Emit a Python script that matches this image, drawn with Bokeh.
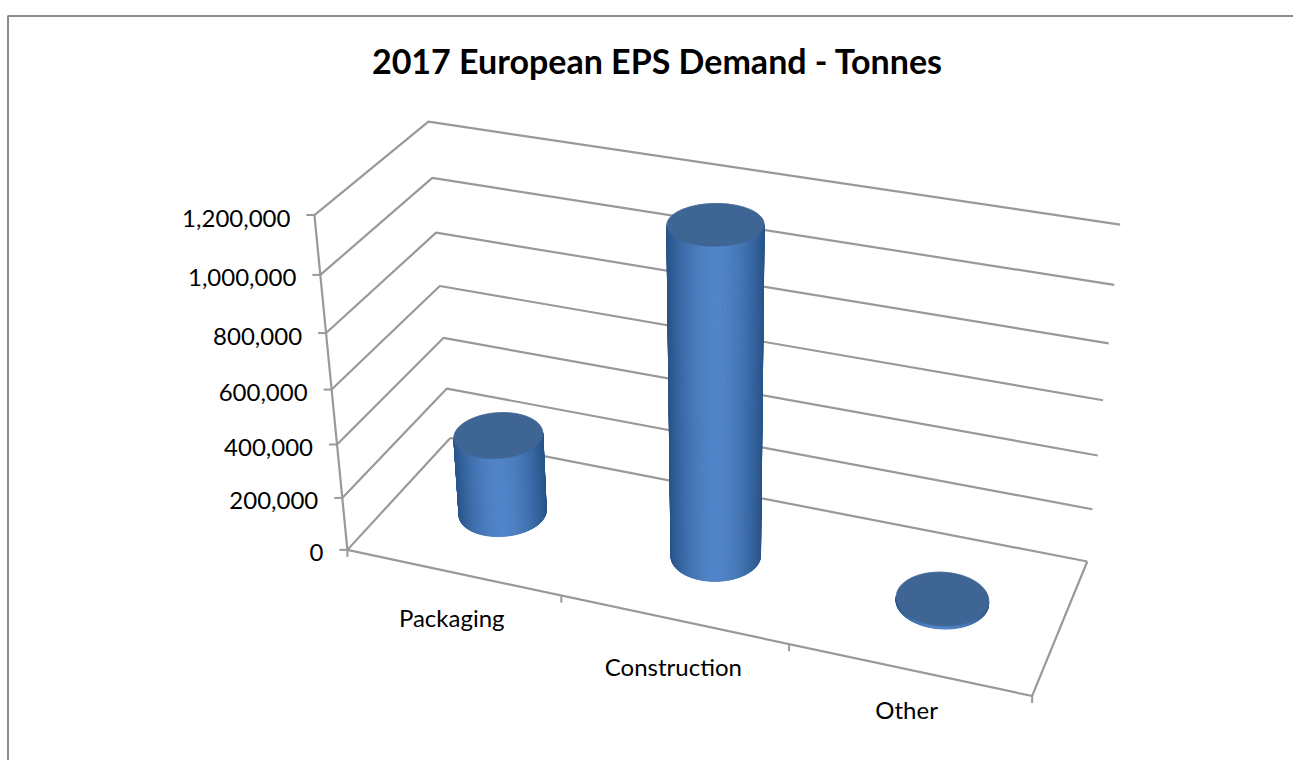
import numpy as np
from bokeh.plotting import figure
from bokeh.core.properties import value
from bokeh.embed import file_html
from bokeh.resources import INLINE

# ---- chart data ----
title_text = "2017 European EPS Demand - Tonnes"
categories = ["Packaging", "Construction", "Other"]
demand = [300000, 1185000, 12000]
value_ticks = [0, 200000, 400000, 600000, 800000, 1000000, 1200000]
tick_labels = ["0", "200,000", "400,000", "600,000", "800,000", "1,000,000", "1,200,000"]
value_max = 1200000

# ---- camera: the 3D box (category, depth, value) as seen on the page ----
camera_world = np.array([
    [0, 0, 0], [1, 0, 0], [1, 1, 0], [0, 1, 0],
    [0, 0, 1], [0, 1, 1], [1, 1, 1],
    [1/3, 0, 0], [2/3, 0, 0], [0, 1, 0.5], [1, 1, 0.5], [0, 0, 0.5],
], float)
camera_page = np.array([
    [347, 549], [1032, 695], [1086, 561], [450, 437],
    [314, 215], [428, 121], [1119, 224],
    [561, 597], [788, 643], [439, 286], [1104, 400], [331, 388],
], float)

def fit_camera(world, page):
    rows, rhs = [], []
    for (a, b, c), (x, y) in zip(world, page):
        rows.append([a, b, c, 1, 0, 0, 0, 0, -x*a, -x*b, -x*c]); rhs.append(x)
        rows.append([0, 0, 0, 0, a, b, c, 1, -y*a, -y*b, -y*c]); rhs.append(y)
    sol = np.linalg.lstsq(np.array(rows), np.array(rhs), rcond=None)[0]
    return np.append(sol, 1.0).reshape(3, 4)

P = fit_camera(camera_world, camera_page)

def project(u, w, v):
    u, w, v = np.broadcast_arrays(np.asarray(u, float), np.asarray(w, float), np.asarray(v, float))
    q = np.stack([u, w, v / value_max, np.ones_like(u, dtype=float)])
    r = P @ q.reshape(4, -1)
    return (r[0] / r[2]).reshape(u.shape), (r[1] / r[2]).reshape(u.shape)

GRID = "#999999"
FONT = "Lato"

p = figure(width=1293, height=760, x_range=(0, 1293), y_range=(760, 0),
           output_backend="svg", toolbar_location=None, min_border=0,
           outline_line_color=None, x_axis_location=None, y_axis_location=None)
p.grid.visible = False
p.background_fill_color = "white"

# chart frame
p.line([7.5, 7.5, 1293], [760, 15.5, 15.5], line_color="#8c8c8c", line_width=2)

# gridlines: side wall and back wall
for v in value_ticks:
    x, y = project([0, 0, 1], [0, 1, 1], [v, v, v])
    if v == 0:
        x, y = x[:2], y[:2]
    p.line(x, y, line_color=GRID, line_width=2.2)

# floor edges
x, y = project([0, 1, 1], [0, 0, 1], [0, 0, 0])
p.line(x, y, line_color=GRID, line_width=2.2)
x, y = project([0, 1], [1, 1], [0, 0])
p.line(x, y, line_color=GRID, line_width=2.2)

# value axis and ticks
x, y = project([0, 0], [0, 0], [0, value_max])
p.line(x, y, line_color=GRID, line_width=2.2)
for v in value_ticks:
    x, y = project(0, 0, v)
    p.line([float(x) - 8, float(x)], [float(y), float(y)], line_color=GRID, line_width=2)

# category axis ticks
for i in range(len(categories) + 1):
    x, y = project(i / len(categories), 0, 0)
    p.line([float(x), float(x)], [float(y), float(y) + 7], line_color=GRID, line_width=2)

# value labels
lx, ly = project(np.zeros(len(value_ticks)), np.zeros(len(value_ticks)), value_ticks)
p.text(x=list(lx), y=list(ly), text=tick_labels, text_font=value(FONT), text_font_size="24px",
       text_align="right", text_baseline="middle", text_color="#000000",
       x_offset=-24, y_offset=3)

# category labels
n = len(categories)
cu = [(i + 0.5) / n for i in range(n)]
cx, cy = project(cu, np.zeros(n), np.zeros(n))
for i, (nudge_x, nudge_y) in enumerate([(-1, 45), (0, 47), (-2, 40)]):
    p.text(x=[float(cx[i])], y=[float(cy[i])], text=[categories[i]], text_font=value(FONT),
           text_font_size="24px", text_align="center", text_baseline="middle",
           text_color="#000000", x_offset=nudge_x, y_offset=nudge_y)

# title
p.text(x=[657], y=[60], text=[title_text], text_font=value(FONT), text_font_style="bold",
       text_font_size="34px", text_align="center", text_baseline="middle", text_color="#000000")

# cylinders
RU, RW = 0.0635, 0.195
LIGHT = np.array([0x50, 0x84, 0xc9])
DARK = np.array([0x2a, 0x55, 0x8a])
TOP = "#3e6593"

def hexcol(c):
    return "#%02x%02x%02x" % tuple(int(round(a)) for a in c)

def signed_area(qx, qy):
    return 0.5 * sum(qx[k] * qy[(k + 1) % 4] - qx[(k + 1) % 4] * qy[k] for k in range(4))

for c, val in zip(cu, demand):
    th = np.linspace(0, 2 * np.pi, 361)
    uu, ww = c + RU * np.cos(th), 0.5 + RW * np.sin(th)
    bx, by = project(uu, ww, np.zeros_like(th))
    tx, ty = project(uu, ww, np.full_like(th, val))
    front_index = int(np.argmax(by))
    quad = lambda i: ([bx[i], bx[i + 1], tx[i + 1], tx[i]], [by[i], by[i + 1], ty[i + 1], ty[i]])
    facing = np.sign(signed_area(*quad(min(front_index, len(th) - 2))))
    xs, ys, mids = [], [], []
    for i in range(len(th) - 1):
        qx, qy = quad(i)
        if signed_area(qx, qy) * facing > 0:
            xs.append(qx); ys.append(qy); mids.append((qx[0] + qx[1]) / 2)
    xc, rx = (min(mids) + max(mids)) / 2, (max(mids) - min(mids)) / 2
    cols = [hexcol(DARK + (LIGHT - DARK) * (1 - min(abs(m - xc) / rx, 1) ** 1.7)) for m in mids]
    order = sorted(range(len(xs)), key=lambda k: abs(mids[k] - xc), reverse=True)
    p.patches([xs[k] for k in order], [ys[k] for k in order],
              fill_color=[cols[k] for k in order], line_color=[cols[k] for k in order], line_width=0.8)
    p.patch(tx, ty, fill_color=TOP, line_color=TOP, line_width=1)

open("out.html", "w").write(file_html(p, INLINE))
